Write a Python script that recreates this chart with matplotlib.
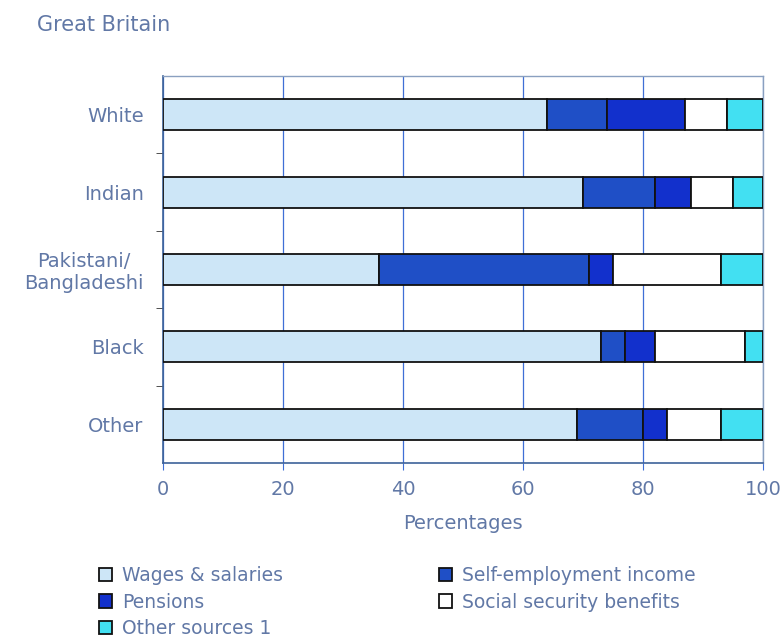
import numpy as np
import matplotlib
matplotlib.use("Agg")
import matplotlib.pyplot as plt

# groups, top to bottom
groups = ["White", "Indian", "Pakistani/\nBangladeshi", "Black", "Other"]

# percentage of gross household income by source
wages = [64, 70, 36, 73, 69]
self_emp = [10, 12, 35, 4, 11]
pensions = [13, 6, 4, 5, 4]
social = [7, 7, 18, 15, 9]
other = [6, 5, 7, 3, 7]

series = [
    ("Wages & salaries", wages, "#cde6f7"),
    ("Self-employment income", self_emp, "#1f4fc6"),
    ("Pensions", pensions, "#1230cc"),
    ("Social security benefits", social, "#ffffff"),
    ("Other sources 1", other, "#42e0f2"),
]

txt = "#6178a6"
grid_c = "#3f6fd6"

fig = plt.figure(figsize=(7.82, 6.37), dpi=100)
ax = fig.add_axes([0.2084, 0.2732, 0.7673, 0.6075])

y = np.arange(len(groups))
left = np.zeros(len(groups))
handles = {}
for name, vals, col in series:
    vals = np.array(vals, dtype=float)
    b = ax.barh(y, vals, left=left, height=0.4, color=col,
                edgecolor="#111111", linewidth=1.3, zorder=3)
    handles[name] = b
    left += vals

ax.set_xlim(0, 100)
ax.set_ylim(4.5, -0.5)
ax.set_xticks([0, 20, 40, 60, 80, 100])
ax.set_yticks(y)
ax.set_yticklabels(groups)
ax.set_yticks(np.arange(0.5, 4, 1), minor=True)
ax.tick_params(axis="y", which="major", length=0, pad=14, labelsize=14, labelcolor=txt)
ax.tick_params(axis="y", which="minor", length=5, color="#333333", direction="out")
ax.tick_params(axis="x", length=5, color=grid_c, labelsize=14, labelcolor=txt, pad=7)
for lab in ax.get_yticklabels():
    lab.set_horizontalalignment("right")
    lab.set_multialignment("center")
    lab.set_linespacing(1.15)

ax.grid(axis="x", color=grid_c, linewidth=0.9, zorder=0)
for s in ["left", "bottom"]:
    ax.spines[s].set_color("#3d6299")
    ax.spines[s].set_linewidth(1.2)
for s in ["top", "right"]:
    ax.spines[s].set_color("#8aa0c0")
    ax.spines[s].set_linewidth(1.0)

ax.set_xlabel("Percentages", color=txt, fontsize=14, labelpad=11)

fig.text(0.047, 0.96, "Great Britain", color=txt, fontsize=15, va="center")

order = ["Wages & salaries", "Pensions", "Other sources 1",
         "Self-employment income", "Social security benefits"]
leg = fig.legend([handles[n] for n in order], order, ncol=2,
                 loc="upper left", bbox_to_anchor=(0.115, 0.126),
                 frameon=False, fontsize=13.5, handlelength=0.7,
                 handleheight=0.7, handletextpad=0.5, labelspacing=0.4,
                 columnspacing=8.35, borderpad=0)
for t in leg.get_texts():
    t.set_color(txt)

fig.savefig("out.png", dpi=100)
